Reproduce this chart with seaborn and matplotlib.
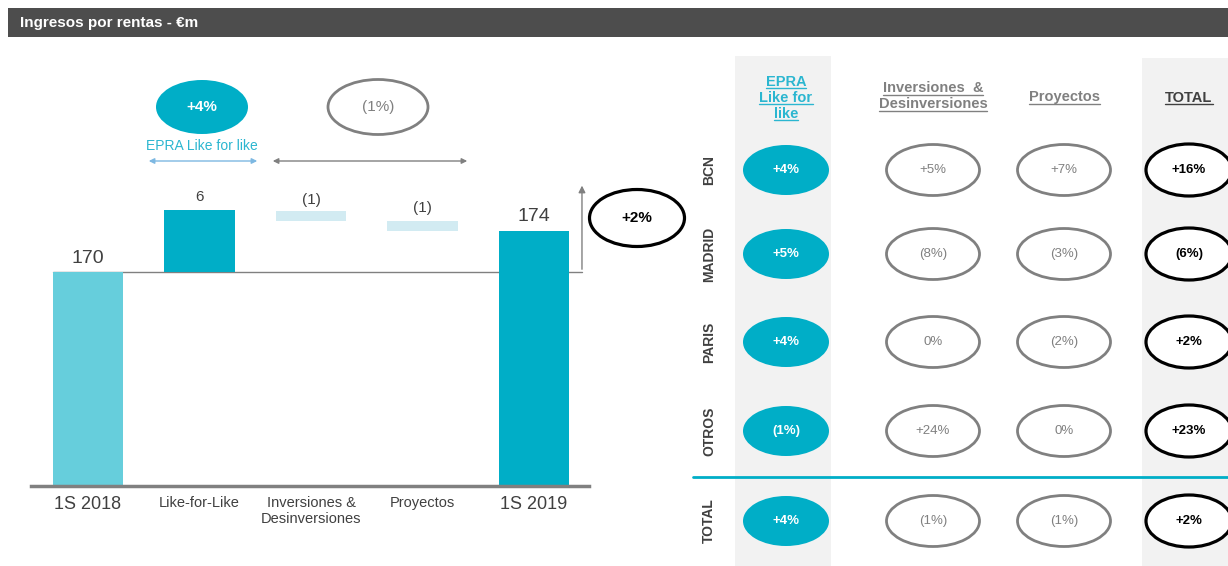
import matplotlib
matplotlib.use("Agg")
import matplotlib.pyplot as plt
from matplotlib.patches import Ellipse, Rectangle
import pandas as pd
import seaborn as sns

# waterfall (EUR m)
steps = ["1S 2018", "Like-for-Like", "Inversiones &\nDesinversiones", "Proyectos", "1S 2019"]
step_values = [170, 6, -1, -1, 174]
step_labels = ["170", "6", "(1)", "(1)", "174"]

# growth bubbles above the waterfall
lfl_growth = "+4%"
lfl_caption = "EPRA Like for like"
other_growth = "(1%)"
total_growth = "+2%"

# breakdown by city
cities = ["BCN", "MADRID", "PARIS", "OTROS", "TOTAL"]
table_headers = ["EPRA\nLike for\nlike", "Inversiones  &\nDesinversiones", "Proyectos", "TOTAL"]
epra_lfl = ["+4%", "+5%", "+4%", "(1%)", "+4%"]
inversiones = ["+5%", "(8%)", "0%", "+24%", "(1%)"]
proyectos = ["+7%", "(3%)", "(2%)", "0%", "(1%)"]
total = ["+16%", "(6%)", "+2%", "+23%", "+2%"]

TEAL = "#00AEC7"
LIGHT_TEAL = "#66CEDC"
PALE = "#D2EBF2"
GREY = "#808080"
DARK = "#404040"

sns.set_theme(style="white")
plt.rcParams["font.family"] = ["Liberation Sans", "DejaVu Sans"]

W, H = 1228, 566
fig = plt.figure(figsize=(W / 100, H / 100), dpi=100)

# ---- waterfall ----
bottoms, heights = [], []
running = 0
for i, v in enumerate(step_values):
    if i == 0 or i == len(step_values) - 1:
        bottoms.append(0)
        heights.append(v)
        running = v
    else:
        bottoms.append(running if v > 0 else running + v)
        heights.append(abs(v))
        running += v
df = pd.DataFrame({"step": steps, "height": heights, "bottom": bottoms})

ax = fig.add_axes([31 / W, (H - 486) / H, (589 - 31) / W, (486 - 40) / H])
sns.barplot(data=df, x="step", y="height", bottom=df["bottom"].values,
            color=TEAL, saturation=1, width=0.63, errorbar=None, ax=ax)
bar_colors = [LIGHT_TEAL, TEAL, PALE, PALE, TEAL]
for patch, c in zip(ax.patches, bar_colors):
    patch.set_facecolor(c)
    patch.set_edgecolor("none")

y0 = 170 - 214 / 10.25
ax.set_ylim(y0, y0 + 446 / 10.25)
ax.set_xlim(-0.511, 4.493)
ax.set_xlabel("")
ax.set_ylabel("")
ax.set_yticks([])
for side in ["top", "right", "left"]:
    ax.spines[side].set_visible(False)
ax.spines["bottom"].set_color(GREY)
ax.spines["bottom"].set_linewidth(2.5)
ax.tick_params(axis="x", length=0, pad=7, colors=DARK)
ax.set_xticks(range(len(steps)))
ax.set_xticklabels(steps)
for lab, fs in zip(ax.get_xticklabels(), [13, 10.5, 10.5, 10.5, 13]):
    lab.set_fontsize(fs)
    lab.set_color(DARK)

label_sizes = [14, 11, 11, 11, 14]
label_gap = [0.5, 0.6, 0.3, 0.6, 0.6]
for i, (b, h, txt) in enumerate(zip(bottoms, heights, step_labels)):
    ax.text(i, b + h + label_gap[i], txt, ha="center", va="bottom",
            fontsize=label_sizes[i], color=DARK)

# reference line at the start value and arrow up to the total bubble
ax.plot([-0.315, 4.43], [step_values[0], step_values[0]], color=GREY, lw=1, zorder=0.5)
ax.annotate("", xy=(4.43, 178.7), xytext=(4.43, step_values[0]),
            arrowprops=dict(arrowstyle="-|>", color=GREY, lw=1, mutation_scale=10),
            annotation_clip=False)

# ---- overlay in pixel coordinates ----
ov = fig.add_axes([0, 0, 1, 1], zorder=5)
ov.set_xlim(0, W)
ov.set_ylim(H, 0)
ov.axis("off")
ov.patch.set_alpha(0)

ov.add_patch(Rectangle((8, 8), W - 8, 29, color="#4D4D4D", lw=0))
ov.text(20, 22.5, "Ingresos por rentas - €m", color="white", fontsize=11,
        fontweight="bold", va="center", ha="left")

ov.add_patch(Ellipse((202, 107), 92, 54, facecolor=TEAL, edgecolor="none"))
ov.text(202, 107, lfl_growth, ha="center", va="center", color="white",
        fontsize=11, fontweight="bold")
ov.add_patch(Ellipse((378, 107), 100, 55, facecolor="white", edgecolor=GREY, lw=2))
ov.text(378, 107, other_growth, ha="center", va="center", color=GREY, fontsize=11)
ov.text(202, 146, lfl_caption, ha="center", va="center", color="#2BB6D0", fontsize=10)
ov.annotate("", xy=(146, 161), xytext=(260, 161),
            arrowprops=dict(arrowstyle="<|-|>", color="#7DB8E2", lw=1, mutation_scale=8))
ov.annotate("", xy=(270, 161), xytext=(470, 161),
            arrowprops=dict(arrowstyle="<|-|>", color=GREY, lw=1, mutation_scale=8))
ov.add_patch(Ellipse((637, 218), 95, 57, facecolor="white", edgecolor="black", lw=2.3))
ov.text(637, 218, total_growth, ha="center", va="center", color="black",
        fontsize=11, fontweight="bold")

# ---- table ----
ov.add_patch(Rectangle((735, 56), 96, H - 56, color="#F2F2F2", lw=0, zorder=0))
ov.add_patch(Rectangle((1142, 58), W - 1142, H - 58, color="#F2F2F2", lw=0, zorder=0))
ov.plot([693, W], [477, 477], color=TEAL, lw=2)

col_x = [786, 933, 1064, 1189]
row_y = [170, 254, 342, 431, 521]
header_y = [[81, 97, 113], [88, 104], [97], [97]]
header_colors = ["#2BB6D0", GREY, GREY, DARK]

fig.canvas.draw()
renderer = fig.canvas.get_renderer()
inv = ov.transData.inverted()
for x, head, ys, c in zip(col_x, table_headers, header_y, header_colors):
    for line, y in zip(head.split("\n"), ys):
        t = ov.text(x, y + 4.5, line, ha="center", va="baseline", color=c,
                    fontsize=10.5, fontweight="bold")
        bb = t.get_window_extent(renderer)
        (xa, _), (xb, _) = inv.transform([(bb.x0, bb.y0), (bb.x1, bb.y0)])
        ov.plot([xa, xb], [y + 6.5, y + 6.5], color=c, lw=1)

for y, city in zip(row_y, cities):
    ov.text(709, y, city, rotation=90, ha="center", va="center",
            color=DARK, fontsize=10, fontweight="bold")

columns = [epra_lfl, inversiones, proyectos, total]
styles = [
    dict(size=(86, 50), face=TEAL, edge="none", lw=0, tc="white", fw="bold"),
    dict(size=(93, 51), face="white", edge=GREY, lw=2, tc=GREY, fw="normal"),
    dict(size=(93, 51), face="white", edge=GREY, lw=2, tc=GREY, fw="normal"),
    dict(size=(86, 52), face="white", edge="black", lw=2.3, tc="black", fw="bold"),
]
for x, vals, st in zip(col_x, columns, styles):
    for y, v in zip(row_y, vals):
        ov.add_patch(Ellipse((x, y), st["size"][0], st["size"][1],
                             facecolor=st["face"], edgecolor=st["edge"], lw=st["lw"]))
        ov.text(x, y, v, ha="center", va="center", color=st["tc"],
                fontsize=9.5, fontweight=st["fw"])

fig.savefig("out.png", dpi=100)
